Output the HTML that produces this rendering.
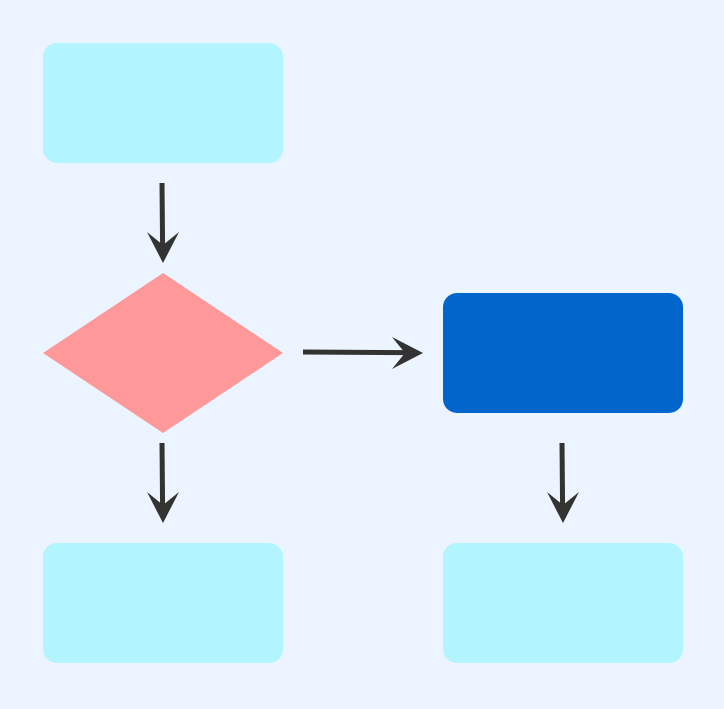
<!DOCTYPE html>
<html><head><style>html,body{margin:0;padding:0;background:#ecf4ff;}</style></head>
<body>
<svg width="724" height="704" xmlns="http://www.w3.org/2000/svg">
<rect width="724" height="704" fill="#ecf4ff"/>
<rect x="43" y="43" width="240" height="120" rx="14" fill="#b2f5fe"/>
<polygon points="163,273 283,353 163,433 43,353" fill="#ff9999"/>
<rect x="443" y="293" width="240" height="120" rx="14" fill="#0066cc"/>
<rect x="43" y="543" width="240" height="120" rx="14" fill="#b2f5fe"/>
<rect x="443" y="543" width="240" height="120" rx="14" fill="#b2f5fe"/>
<g stroke="#333" stroke-width="5" fill="none">
<line x1="162" y1="183" x2="162.6" y2="248"/>
<line x1="162" y1="443" x2="162.6" y2="508"/>
<line x1="562" y1="443" x2="562.6" y2="508"/>
<line x1="303" y1="352" x2="408" y2="352.6"/>
</g>
<g fill="#333">
<polygon points="163,263 147,232 163,245 179,232"/>
<polygon points="163,523 147,492 163,505 179,492"/>
<polygon points="563,523 547,492 563,505 579,492"/>
<polygon points="423,353 392,337 405,353 392,369"/>
</g>
</svg>
</body></html>
